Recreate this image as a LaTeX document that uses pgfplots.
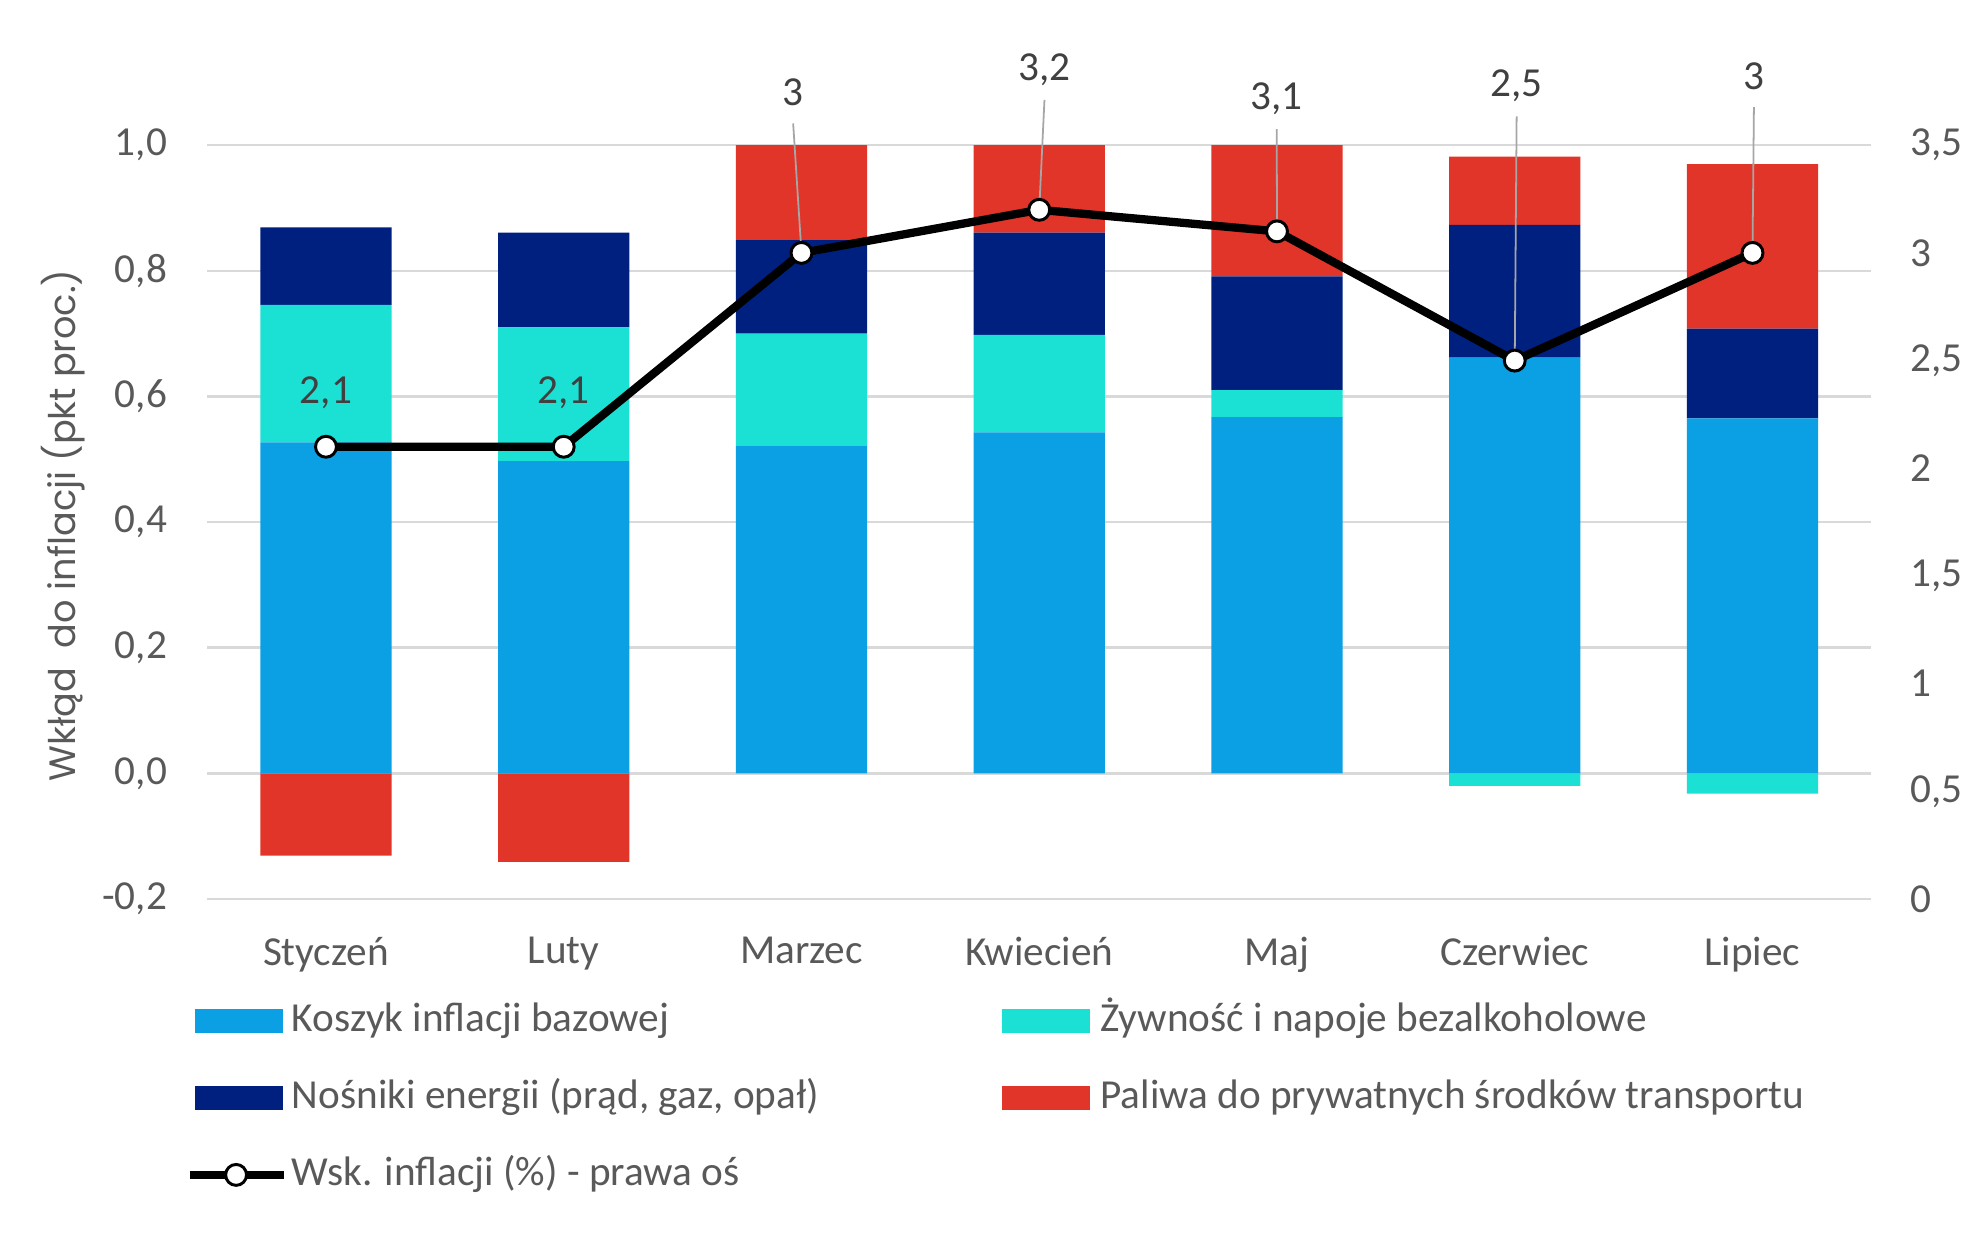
\documentclass[border=0pt]{standalone}
\usepackage{pgfplots}
\usepackage{pgfplotstable}
\pgfplotsset{compat=1.18}
\usepackage{fontspec}
\setmainfont{Carlito}
\newfontfamily\ylfont{Poppins}
\definecolor{cBlue}{HTML}{0AA0E3}
\definecolor{cTeal}{HTML}{1BE0D4}
\definecolor{cNavy}{HTML}{00207F}
\definecolor{cRed}{HTML}{E1352A}
\definecolor{cGrid}{HTML}{D9D9D9}
\definecolor{cText}{HTML}{595959}
\definecolor{cLabel}{HTML}{404040}
\definecolor{cLeader}{HTML}{A6A6A6}

\pgfplotstableread{
x blue tealp navy redp negred negteal
0 0.527 0.219 0.123 0.000 -0.131 0.000
1 0.497 0.213 0.151 0.000 -0.141 0.000
2 0.521 0.179 0.149 0.151 0.000 0.000
3 0.543 0.155 0.163 0.139 0.000 0.000
4 0.567 0.043 0.181 0.209 0.000 0.000
5 0.662 0.000 0.211 0.109 0.000 -0.020
6 0.565 0.000 0.143 0.262 0.000 -0.032
}\bars

\pgfplotstableread{
x infl
0 2.1
1 2.1
2 3.0
3 3.2
4 3.1
5 2.5
6 3.0
}\infl

\begin{document}
\fontsize{10.45pt}{12.4pt}\selectfont
\begin{tikzpicture}
\path[use as bounding box] (-52.48pt,-84.48pt) rectangle (449.28pt,227.84pt);
\begin{axis}[
  at={(0,0)}, anchor=south west,
  width=421.76pt, height=191.04pt, scale only axis,
  ybar stacked, bar width=33.28pt,
  xmin=-0.5, xmax=6.5, ymin=-0.2, ymax=1.0,
  xtick={0,1,2,3,4,5,6},
  xticklabels={Styczeń,Luty,Marzec,Kwiecień,Maj,Czerwiec,Lipiec},
  ytick={-0.2,0,0.2,0.4,0.6,0.8,1.0},
  /pgf/number format/assume math mode=true,
  yticklabel={\pgfmathprintnumber[fixed,fixed zerofill,precision=1,use comma]{\tick}},
  axis line style={draw=none}, major tick length=0pt, tick style={draw=none},
  ymajorgrids, grid style={cGrid, line width=0.65pt},
  tick label style={text=cText},
  xticklabel style={yshift=-6pt},
  yticklabel style={xshift=-6.5pt},
]
\addplot[fill=cBlue, draw=none] table[x=x,y=blue]{\bars};
\addplot[fill=cTeal, draw=none] table[x=x,y=tealp]{\bars};
\addplot[fill=cNavy, draw=none] table[x=x,y=navy]{\bars};
\addplot[fill=cRed, draw=none] table[x=x,y=redp]{\bars};
\addplot[fill=cRed, draw=none, forget plot] table[x=x,y=negred]{\bars};
\addplot[fill=cTeal, draw=none, forget plot] table[x=x,y=negteal]{\bars};
\draw[cGrid, line width=0.65pt] (axis cs:-0.5,0) -- (axis cs:6.5,0);
\end{axis}

\begin{axis}[
  at={(0,0)}, anchor=south west,
  width=421.76pt, height=191.04pt, scale only axis,
  xmin=-0.5, xmax=6.5, ymin=0, ymax=3.5,
  hide x axis, axis y line*=right,
  ytick={0,0.5,1,1.5,2,2.5,3,3.5},
  /pgf/number format/assume math mode=true,
  yticklabel={\pgfmathprintnumber[use comma]{\tick}},
  axis line style={draw=none}, major tick length=0pt, tick style={draw=none},
  tick label style={text=cText},
  yticklabel style={xshift=6.2pt},
  clip=false,
  legend columns=2, legend cell align=left,
  legend style={draw=none, fill=none, inner sep=0pt,
    at={(axis description cs:0,0)}, anchor=north west,
    xshift=-5.7pt, yshift=-23.8pt, text=cText,
    row sep=5.7pt,
    nodes={text height=7.6pt, text depth=2.2pt, inner ysep=2pt, inner xsep=0.9pt},
    /tikz/every even column/.append style={column sep=45.6pt},
    /tikz/column 4/.append style={nodes={inner xsep=2.6pt}}},
]
\addlegendimage{legend image code/.code={\fill[cBlue] (0pt,-2.9pt) rectangle (21.8pt,2.9pt);}}
\addlegendentry{Koszyk inflacji bazowej}
\addlegendimage{legend image code/.code={\fill[cTeal] (0pt,-2.9pt) rectangle (21.8pt,2.9pt);}}
\addlegendentry{Żywność i napoje bezalkoholowe}
\addlegendimage{legend image code/.code={\fill[cNavy] (0pt,-2.9pt) rectangle (21.8pt,2.9pt);}}
\addlegendentry{Nośniki energii (prąd, gaz, opał)}
\addlegendimage{legend image code/.code={\fill[cRed] (0pt,-2.9pt) rectangle (21.8pt,2.9pt);}}
\addlegendentry{Paliwa do prywatnych środków transportu}
\addplot[black, line width=2.1pt, mark=*, mark size=2.65pt,
  mark options={fill=white, draw=black, line width=0.75pt},
  legend image code/.code={
    \draw[black,line width=2.1pt] (-1.6pt,0pt) -- (22.4pt,0pt);
    \draw[black,fill=white,line width=0.75pt] (10.2pt,0pt) circle (2.65pt);}
  ] table[x=x,y=infl]{\infl};
\addlegendentry{Wsk. inflacji (\%) - prawa oś}

\node[text=cLabel, yshift=13.8pt] at (axis cs:0,2.1) {2,1};
\node[text=cLabel, yshift=13.8pt] at (axis cs:1,2.1) {2,1};
\node[text=cLabel] (l2) at (axis cs:1.965,3.746) {3};
\node[text=cLabel] (l3) at (axis cs:3.022,3.852) {3,2};
\node[text=cLabel] (l4) at (axis cs:3.999,3.717) {3,1};
\node[text=cLabel] (l5) at (axis cs:5.008,3.776) {2,5};
\node[text=cLabel] (l6) at (axis cs:6.006,3.822) {3};
\draw[cLeader, line width=0.45pt] ([yshift=-0.8pt]l2.south) -- (axis cs:2,3.0);
\draw[cLeader, line width=0.45pt] ([yshift=0pt]l3.south) -- (axis cs:3,3.2);
\draw[cLeader, line width=0.45pt] ([yshift=0pt]l4.south) -- (axis cs:4,3.1);
\draw[cLeader, line width=0.45pt] ([yshift=0pt]l5.south) -- (axis cs:5,2.5);
\draw[cLeader, line width=0.45pt] ([yshift=-0.8pt]l6.south) -- (axis cs:6,3.0);
\end{axis}
\node[rotate=90, text=cText, font=\ylfont\fontsize{9.3pt}{11pt}\selectfont] at (-36.5pt,94.7pt) {Wkłąd\ \ do inflacji (pkt proc.)};
\end{tikzpicture}
\end{document}
